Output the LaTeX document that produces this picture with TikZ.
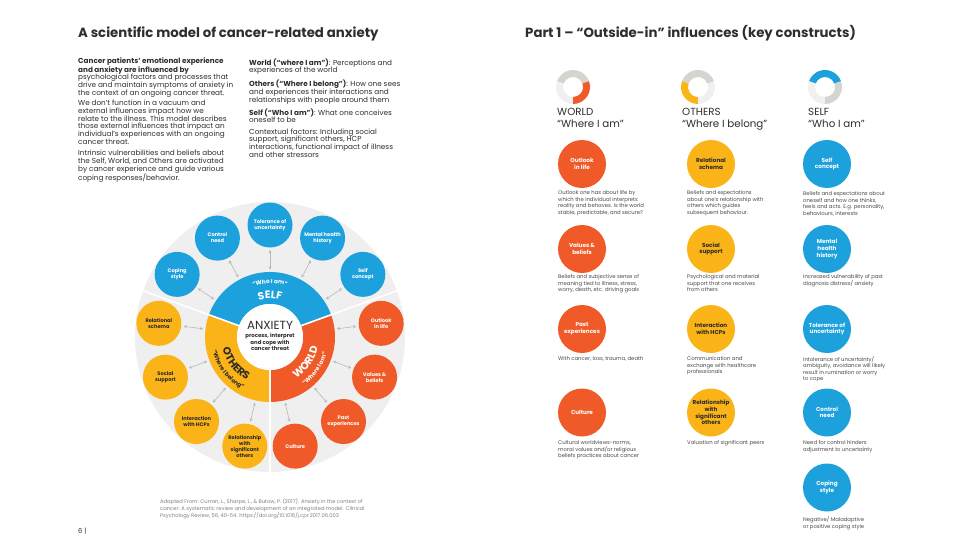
\documentclass[tikz,border=0pt]{standalone}
\usepackage{fontspec}
\setmainfont{Poppins}
\usetikzlibrary{arrows.meta,decorations.text}
\definecolor{cblue}{HTML}{1DA1DC}
\definecolor{cyel}{HTML}{FBB417}
\definecolor{corg}{HTML}{F05A28}
\definecolor{cdisk}{HTML}{EFEFEF}
\definecolor{ctxt}{HTML}{2E2E2E}
\definecolor{cdesc}{HTML}{4A4A4A}
\definecolor{cdark}{HTML}{2A2A2A}
\definecolor{ccite}{HTML}{808080}
\definecolor{carrow}{HTML}{B8B8B8}
\definecolor{cicongray}{HTML}{D5D5CF}
\definecolor{ciconlight}{HTML}{F0F0F0}
\begin{document}
\begin{tikzpicture}[x=1pt,y=-1pt,
  every node/.style={inner sep=0pt},
  ttl/.style={anchor=base west, font=\fontsize{13.3}{15}\selectfont\bfseries, text=ctxt},
  body/.style={anchor=north west, align=left, font=\fontsize{7.25}{7.7}\selectfont, text=ctxt},
  cite/.style={anchor=north west, align=left, font=\fontsize{5.2}{7}\selectfont, text=ccite},
  desc/.style={anchor=north west, align=left, font=\fontsize{5.3}{6.5}\selectfont, text=cdesc},
  hdr/.style={anchor=north west, align=left, font=\fontsize{10.3}{11.7}\selectfont, text=ctxt},
  sat/.style={circle, minimum size=45pt, align=center, font=\fontsize{5.1}{6}\selectfont\bfseries},
  big/.style={circle, minimum size=48pt, align=center, font=\fontsize{5.7}{6.8}\selectfont\bfseries},
  biarrow/.style={{Stealth[length=3pt,width=3.2pt]}-{Stealth[length=3pt,width=3.2pt]}, draw=carrow, line width=0.6pt, shorten <=1.5pt, shorten >=2.5pt}]
\path[use as bounding box, fill=white] (0,0) rectangle (960,540);

% ---------- titles ----------
\node[ttl] (t1) at (78,38) {A scientific model of cancer-related anxiety};
\node[ttl] (t2) at (525,38) {Part 1 – “Outside-in” influences (key constructs)};

% ---------- left text ----------
\node[body] (p1) at (78,57.3) {\textbf{Cancer patients’ emotional experience}\\
\textbf{and anxiety are influenced by}\\
psychological factors and processes that\\
drive and maintain symptoms of anxiety in\\
the context of an ongoing cancer threat.};
\node[body] (p2) at (78,100) {We don’t function in a vacuum and\\
external influences impact how we\\
relate to the illness. This model describes\\
those external influences that impact an\\
individual’s experiences with an ongoing\\
cancer threat.};
\node[body] (p3) at (78,150) {Intrinsic vulnerabilities and beliefs about\\
the Self, World, and Others are activated\\
by cancer experience and guide various\\
coping responses/behavior.};
\node[body] (q1) at (249,58.3) {\textbf{World (“where I am”)}: Perceptions and\\
experiences of the world};
\node[body] (q2) at (249,80) {\textbf{Others (“Where I belong”)}: How one sees\\
and experiences their interactions and\\
relationships with people around them};
\node[body] (q3) at (249,108.4) {\textbf{Self (“Who I am”)}: What one conceives\\
oneself to be};
\node[body] (q4) at (249,128.4) {Contextual factors: Including social\\
support, significant others, HCP\\
interactions, functional impact of illness\\
and other stressors};

% ---------- circular model ----------
\begin{scope}[shift={(270,337)},y=1pt]
  \fill[cdisk] (0,0) circle[radius=135pt];
  \fill[cblue] (20:65) arc[start angle=20,end angle=160,radius=65pt] -- (160:33) arc[start angle=160,end angle=20,radius=33pt] -- cycle;
  \fill[cyel] (160:65) arc[start angle=160,end angle=270,radius=65pt] -- (270:33) arc[start angle=270,end angle=160,radius=33pt] -- cycle;
  \fill[corg] (270:65) arc[start angle=270,end angle=380,radius=65pt] -- (20:33) arc[start angle=380,end angle=270,radius=33pt] -- cycle;
  \foreach \a in {20,160,270} \draw[white, line width=1.6pt] (\a:30) -- (\a:136);
  \node[circle, fill=white, minimum size=66pt] (anx) at (0,0) {};
  \node[font=\fontsize{11.8}{12}\selectfont, text=ctxt] (anxt) at (0,12) {ANXIETY};
  \node[align=center, font=\fontsize{5.4}{6.2}\selectfont\bfseries, text=ctxt] (anxs) at (0,-5) {process, interpret\\and cope with\\cancer threat};
  % ring labels
  \path[decorate, decoration={text along path, text align=center, text color=white,
     text={|\fontsize{10.5}{11}\selectfont\bfseries|SELF}}]
     (140:38.5) arc[start angle=140,end angle=40,radius=38.5pt];
  \path[decorate, decoration={text along path, text align=center, text color=white,
     text={|\fontsize{5.8}{6}\selectfont\bfseries|“Who I am”}}]
     (140:53.5) arc[start angle=140,end angle=40,radius=53.5pt];
  \path[decorate, decoration={text along path, text align=center, text color=cdark,
     text={|\fontsize{10.5}{11}\selectfont\bfseries|OTHERS}}]
     (172:49) arc[start angle=172,end angle=264,radius=49pt];
  \path[decorate, decoration={text along path, text align=center, text color=cdark,
     text={|\fontsize{5.8}{6}\selectfont\bfseries|“Where I belong”}}]
     (172:59) arc[start angle=172,end angle=264,radius=59pt];
  \path[decorate, decoration={text along path, text align=center, text color=white,
     text={|\fontsize{10.5}{11}\selectfont\bfseries|WORLD}}]
     (-81:49) arc[start angle=-81,end angle=11,radius=49pt];
  \path[decorate, decoration={text along path, text align=center, text color=white,
     text={|\fontsize{5.8}{6}\selectfont\bfseries|“Where I am”}}]
     (-81:59) arc[start angle=-81,end angle=11,radius=59pt];
  % satellites
  \foreach \a/\n/\l/\f/\tc in {
      90/s1/{Tolerance of\\uncertainty}/cblue/white,
      62/s2/{Mental health\\history}/cblue/white,
      118/s3/{Control\\need}/cblue/white,
      34/s4/{Self\\concept}/cblue/white,
      146/s5/{Coping\\style}/cblue/white,
      173/s6/{Relational\\schema}/cyel/cdark,
      201/s7/{Social\\support}/cyel/cdark,
      229/s8/{Interaction\\with HCPs}/cyel/cdark,
      257/s9/{Relationship\\with\\significant\\others}/cyel/cdark,
      7/s10/{Outlook\\in life}/corg/white,
      -21/s11/{Values \&\\beliefs}/corg/white,
      -49/s12/{Past\\experiences}/corg/white,
      -77/s13/{Culture}/corg/white}{
    \node[sat, fill=\f, text=\tc] (\n) at (\a:112) {\l};
    \coordinate (\n-r) at (\a:66);
    \draw[biarrow] (\n-r) -- (\n);
  }
\end{scope}

% ---------- citation & page ----------
\node[cite] (cit) at (160,498) {Adapted From: Curran, L., Sharpe, L., \& Butow, P. (2017). Anxiety in the context of\\
cancer: A systematic review and development of an integrated model. Clinical\\
Psychology Review, 56, 40-54. https://doi.org/10.1016/j.cpr.2017.06.003};
\node[anchor=base west, font=\fontsize{6.8}{7}\selectfont, text=ctxt] (pg) at (78,533) {6 |};

% ---------- right page: icons ----------
\foreach \cx/\ca/\cb/\cc in {573/cicongray/ciconlight/corg, 698/cicongray/cyel/ciconlight, 825/cblue/ciconlight/cicongray}{
  \begin{scope}[shift={(\cx,87)},y=1pt]
    \fill[\ca] (20:17) arc[start angle=20,end angle=160,radius=17pt] -- (160:10) arc[start angle=160,end angle=20,radius=10pt] -- cycle;
    \fill[\cb] (160:17) arc[start angle=160,end angle=270,radius=17pt] -- (270:10) arc[start angle=270,end angle=160,radius=10pt] -- cycle;
    \fill[\cc] (270:17) arc[start angle=270,end angle=380,radius=17pt] -- (20:10) arc[start angle=380,end angle=270,radius=10pt] -- cycle;
  \end{scope}
}
\node[hdr] (hw) at (557,108) {WORLD\\“Where I am”};
\node[hdr] (ho) at (682,108) {OTHERS\\“Where I belong”};
\node[hdr] (hs) at (808,108) {SELF\\“Who I am”};

% ---------- right page: circles ----------
\node[big, fill=corg, text=white] (w1) at (582,164) {Outlook\\in life};
\node[big, fill=corg, text=white] (w2) at (582,249) {Values \&\\beliefs};
\node[big, fill=corg, text=white] (w3) at (582,329) {Past\\experiences};
\node[big, fill=corg, text=white] (w4) at (582,412.5) {Culture};
\node[big, fill=cyel, text=cdark] (o1) at (711,164) {Relational\\schema};
\node[big, fill=cyel, text=cdark] (o2) at (711,249) {Social\\support};
\node[big, fill=cyel, text=cdark] (o3) at (711,329) {Interaction\\with HCPs};
\node[big, fill=cyel, text=cdark] (o4) at (711,412.5) {Relationship\\with\\significant\\others};
\node[big, fill=cblue, text=white] (e1) at (827,164) {Self\\concept};
\node[big, fill=cblue, text=white] (e2) at (827,249) {Mental\\health\\history};
\node[big, fill=cblue, text=white] (e3) at (827,329) {Tolerance of\\uncertainty};
\node[big, fill=cblue, text=white] (e4) at (827,412.5) {Control\\need};
\node[big, fill=cblue, text=white] (e5) at (827,487.5) {Coping\\style};

% ---------- right page: descriptions ----------
\node[desc] (dw1) at (558,190.5) {Outlook one has about life by\\which the individual interprets\\reality and behaves. Is the world\\stable, predictable, and secure?};
\node[desc] (dw2) at (558,274.5) {Beliefs and subjective sense of\\meaning tied to illness, stress,\\worry, death, etc. driving goals};
\node[desc] (dw3) at (558,356.3) {With cancer, loss, trauma, death};
\node[desc] (dw4) at (558,440.5) {Cultural worldviews-norms,\\moral values and/or religious\\beliefs practices about cancer};
\node[desc] (do1) at (687,190.5) {Beliefs and expectations\\about one’s relationship with\\others which guides\\subsequent behaviour.};
\node[desc] (do2) at (687,274.5) {Psychological and material\\support that one receives\\from others};
\node[desc] (do3) at (687,356.3) {Communication and\\exchange with healthcare\\professionals};
\node[desc] (do4) at (687,440.5) {Valuation of significant peers};
\node[desc] (de1) at (803,191.3) {Beliefs and expectations about\\oneself and how one thinks,\\feels and acts. E.g. personality,\\behaviours, interests};
\node[desc] (de2) at (803,274.5) {Increased vulnerability of past\\diagnosis distress/ anxiety};
\node[desc] (de3) at (803,356.3) {Intolerance of uncertainty/\\ambiguity, avoidance will likely\\result in rumination or worry\\to cope};
\node[desc] (de4) at (803,440.5) {Need for control hinders\\adjustment to uncertainty};
\node[desc] (de5) at (803,516.5) {Negative/ Maladaptive\\or positive coping style};
\end{tikzpicture}
\end{document}
